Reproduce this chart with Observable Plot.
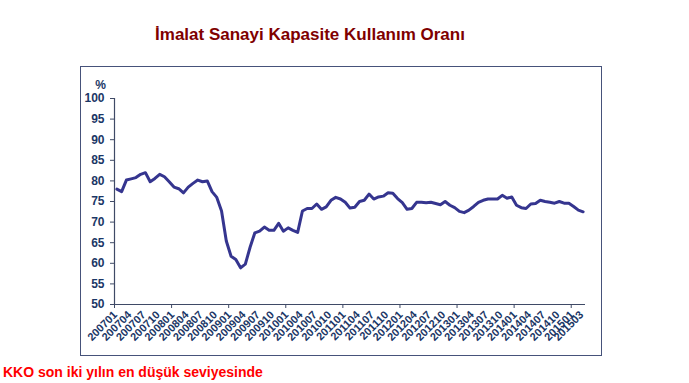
<!DOCTYPE html>
<html>
<head>
<meta charset="utf-8">
<script src="https://cdn.jsdelivr.net/npm/d3@7"></script>
<script src="https://cdn.jsdelivr.net/npm/@observablehq/plot@0.6"></script>
<style>
  html, body { margin: 0; padding: 0; background: #fff; }
  #wrap { position: relative; width: 689px; height: 383px; overflow: hidden; font-family: "Liberation Sans", Arial, sans-serif; }
  #chart { position: absolute; left: 0; top: 0; }
  #title { position: absolute; left: 0; width: 620px; top: 25px; text-align: center; font-weight: bold; font-size: 17px; color: #7f0000; white-space: nowrap; }
  #box { position: absolute; left: 80px; top: 65.5px; width: 522px; height: 290.5px; box-sizing: border-box; border: 1.5px solid #46527a; }
  #note { position: absolute; left: 3px; top: 364px; font-weight: bold; font-size: 14px; line-height: 16px; color: #ff0000; white-space: nowrap; }
</style>
</head>
<body>
<div id="wrap">
  <div id="title">İmalat Sanayi Kapasite Kullanım Oranı</div>
  <div id="box"></div>
  <div id="chart"></div>
  <div id="note">KKO son iki yılın en düşük seviyesinde</div>
</div>
<script>
// Monthly capacity utilisation, 2007-01 .. 2015-03
const months = [];
for (let y = 2007; y <= 2015; y++) for (let m = 1; m <= 12; m++) { if (y === 2015 && m > 3) break; months.push(`${y}${String(m).padStart(2, "0")}`); }

const values = [
  78.0, 77.4, 80.2, 80.5, 80.8, 81.6, 82.0, 79.8, 80.6, 81.6, 81.0, 79.8,
  78.5, 78.1, 77.1, 78.5, 79.4, 80.2, 79.8, 80.0, 77.4, 76.0, 72.7, 65.4,
  61.7, 60.9, 58.9, 59.8, 63.9, 67.4, 67.8, 68.8, 68.0, 68.0, 69.7, 67.8,
  68.6, 68.0, 67.5, 72.7, 73.3, 73.3, 74.4, 73.1, 73.7, 75.3, 76.0, 75.6,
  74.8, 73.4, 73.6, 75.0, 75.3, 76.8, 75.6, 76.1, 76.3, 77.1, 77.0, 75.7,
  74.7, 73.1, 73.3, 74.8, 74.8, 74.7, 74.8, 74.5, 74.2, 75.0, 74.1, 73.5,
  72.6, 72.3, 72.9, 73.8, 74.8, 75.3, 75.6, 75.6, 75.6, 76.5, 75.8, 76.1,
  74.1, 73.5, 73.3, 74.4, 74.5, 75.3, 75.0, 74.8, 74.6, 75.0, 74.6, 74.6,
  73.8, 72.9, 72.5
];

const xLabels = ["200701","200704","200707","200710","200801","200804","200807","200810",
  "200901","200904","200907","200910","201001","201004","201007","201010",
  "201101","201104","201107","201110","201201","201204","201207","201210",
  "201301","201304","201307","201310","201401","201404","201407","201410",
  "201501","201503"];

const yTicks = [50, 55, 60, 65, 70, 75, 80, 85, 90, 95, 100];

const data = months.map((m, i) => ({i, m, v: values[i]}));
const labelData = xLabels.map(l => ({i: months.indexOf(l), l}));
const yearEdges = d3.range(0, months.length, 12).map(i => i - 0.5);

const axisColor = "#3f4a66";
const textColor = "#1b3766";

const chart = Plot.plot({
  width: 689,
  height: 383,
  marginLeft: 114,
  marginRight: 104,
  marginTop: 98,
  marginBottom: 79,
  style: {background: "transparent", fontFamily: "Liberation Sans, Arial, sans-serif", overflow: "visible"},
  x: {domain: [-0.5, months.length - 0.5], axis: null},
  y: {domain: [50, 100], axis: null},
  marks: [
    Plot.ruleX([-0.5], {stroke: axisColor, strokeWidth: 1.2}),
    Plot.ruleY([50], {stroke: axisColor, strokeWidth: 1.2}),
    Plot.axisY({ticks: yTicks, tickSize: 4, tickPadding: 6, stroke: axisColor, fill: textColor,
      fontWeight: "bold", fontSize: 12, label: null, tickFormat: d => String(d)}),
    Plot.axisX({ticks: yearEdges, tickSize: 4, stroke: axisColor, tickFormat: () => "", label: null}),
    Plot.text(labelData, {x: "i", text: "l", frameAnchor: "bottom", rotate: -45, textAnchor: "end",
      dy: 11, dx: 1, fill: textColor, fontWeight: "bold", fontSize: 11}),
    Plot.text(["%"], {frameAnchor: "top-left", dx: -14, dy: -18, fill: textColor, fontWeight: "bold", fontSize: 12, textAnchor: "middle"}),
    Plot.line(data, {x: "i", y: "v", stroke: "#35358f", strokeWidth: 3, strokeLinejoin: "round"})
  ]
});
document.getElementById("chart").appendChild(chart);
</script>
</body>
</html>
